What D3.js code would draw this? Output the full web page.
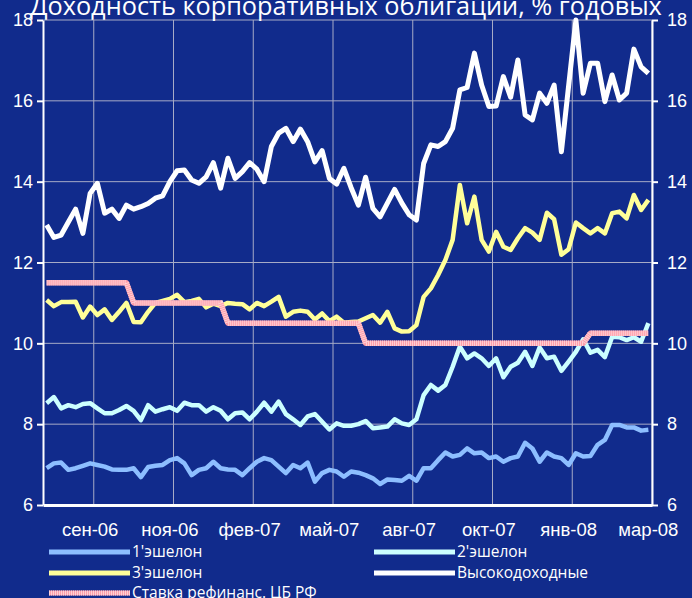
<!DOCTYPE html>
<html>
<head>
<meta charset="utf-8">
<script src="https://cdn.jsdelivr.net/npm/d3@7"></script>
<style>
  body { margin: 0; background: #112b8c; }
  svg { display: block; }
</style>
</head>
<body>
<div id="chart"></div>
<script>
const title = "Доходность корпоративных облигаций, % годовых";
const monthLabels = ["сен-06", "ноя-06", "фев-07", "май-07", "авг-07", "окт-07", "янв-08", "мар-08"];
const yTicks = [6, 8, 10, 12, 14, 16, 18];

// weekly yields, % p.a. (84 observations)
const echelon1 = [6.91, 7.03, 7.05, 6.87, 6.91, 6.97, 7.03, 6.99, 6.95, 6.88,
  6.87, 6.87, 6.91, 6.69, 6.94, 6.97, 6.99, 7.11, 7.16, 7.03,
  6.74, 6.87, 6.91, 7.07, 6.91, 6.88, 6.87, 6.74, 6.91, 7.07,
  7.16, 7.11, 6.95, 6.79, 6.99, 6.91, 7.05, 6.58, 6.79, 6.87,
  6.83, 6.70, 6.83, 6.80, 6.74, 6.66, 6.52, 6.63, 6.62, 6.60,
  6.72, 6.60, 6.91, 6.91, 7.11, 7.30, 7.20, 7.24, 7.40, 7.28,
  7.30, 7.16, 7.20, 7.07, 7.16, 7.20, 7.54, 7.40, 7.07, 7.30,
  7.20, 7.16, 6.99, 7.28, 7.20, 7.21, 7.49, 7.61, 7.98, 7.98,
  7.92, 7.92, 7.84, 7.86];

const echelon2 = [8.52, 8.67, 8.39, 8.47, 8.42, 8.50, 8.52, 8.39, 8.27, 8.27,
  8.35, 8.45, 8.33, 8.10, 8.47, 8.31, 8.37, 8.42, 8.33, 8.53,
  8.47, 8.47, 8.31, 8.42, 8.33, 8.12, 8.27, 8.29, 8.12, 8.31,
  8.53, 8.31, 8.56, 8.25, 8.12, 7.98, 8.19, 8.25, 8.06, 7.87,
  8.02, 7.96, 7.96, 8.00, 8.08, 7.90, 7.92, 7.94, 8.12, 8.02,
  7.98, 8.12, 8.72, 8.97, 8.83, 8.97, 9.42, 9.92, 9.63, 9.75,
  9.63, 9.44, 9.63, 9.16, 9.42, 9.52, 9.79, 9.44, 9.90, 9.63,
  9.67, 9.32, 9.55, 9.79, 10.10, 9.77, 9.84, 9.66, 10.16, 10.15,
  10.08, 10.15, 10.04, 10.50];

const echelon3 = [11.07, 10.92, 11.02, 11.02, 11.03, 10.64, 10.91, 10.70, 10.84, 10.58,
  10.78, 11.00, 10.53, 10.52, 10.78, 11.00, 11.05, 11.10, 11.20, 11.02,
  11.05, 11.10, 10.89, 10.98, 10.92, 11.00, 10.98, 10.97, 10.84, 11.00,
  10.92, 11.03, 11.15, 10.66, 10.78, 10.81, 10.78, 10.59, 10.74, 10.55,
  10.66, 10.51, 10.53, 10.54, 10.62, 10.70, 10.51, 10.78, 10.37, 10.29,
  10.30, 10.45, 11.15, 11.36, 11.69, 12.06, 12.56, 13.92, 12.97, 13.63,
  12.56, 12.27, 12.76, 12.39, 12.31, 12.60, 12.85, 12.74, 12.56, 13.23,
  13.07, 12.19, 12.33, 12.99, 12.85, 12.72, 12.85, 12.72, 13.22, 13.26,
  13.09, 13.67, 13.30, 13.55];

const highYield = [12.93, 12.62, 12.68, 13.00, 13.32, 12.72, 13.71, 13.96, 13.22, 13.32,
  13.09, 13.42, 13.32, 13.38, 13.46, 13.59, 13.65, 14.00, 14.27, 14.29,
  14.04, 13.96, 14.12, 14.47, 13.84, 14.58, 14.08, 14.25, 14.47, 14.31,
  14.00, 14.87, 15.20, 15.32, 14.99, 15.30, 14.99, 14.49, 14.77, 14.08,
  13.94, 14.33, 13.85, 13.42, 14.11, 13.34, 13.13, 13.47, 13.81, 13.47,
  13.18, 13.05, 14.45, 14.91, 14.87, 14.99, 15.32, 16.27, 16.33, 17.18,
  16.39, 15.86, 15.87, 16.60, 16.09, 17.01, 15.65, 15.53, 16.19, 15.94,
  16.39, 14.74, 16.37, 18.00, 16.19, 16.93, 16.93, 15.98, 16.64, 16.02,
  16.19, 17.28, 16.84, 16.68];

const refiRate = [11.5, 11.5, 11.5, 11.5, 11.5, 11.5, 11.5, 11.5, 11.5, 11.5,
  11.5, 11.5, 11, 11, 11, 11, 11, 11, 11, 11,
  11, 11, 11, 11, 11, 10.5, 10.5, 10.5, 10.5, 10.5,
  10.5, 10.5, 10.5, 10.5, 10.5, 10.5, 10.5, 10.5, 10.5, 10.5,
  10.5, 10.5, 10.5, 10.5, 10, 10, 10, 10, 10, 10,
  10, 10, 10, 10, 10, 10, 10, 10, 10, 10,
  10, 10, 10, 10, 10, 10, 10, 10, 10, 10,
  10, 10, 10, 10, 10, 10.25, 10.25, 10.25, 10.25, 10.25,
  10.25, 10.25, 10.25, 10.25];

const width = 692, height = 598;
const bg = "#112b8c";

const series = [
  {name: "1'эшелон", values: echelon1, color: "#8dbeff"},
  {name: "2'эшелон", values: echelon2, color: "#ccffff"},
  {name: "3'эшелон", values: echelon3, color: "#ffff99"},
  {name: "Высокодоходные", values: highYield, color: "#ffffff"},
  {name: "Ставка рефинанс. ЦБ РФ", values: refiRate, color: "#ff9eaa", striped: true}
];

const n = highYield.length;

const svg = d3.select("#chart").append("svg")
  .attr("width", width)
  .attr("height", height)
  .style("font-family", "'Open Sans', sans-serif");

svg.append("rect").attr("width", width).attr("height", height).attr("fill", bg);

const x = d3.scaleBand().domain(d3.range(n)).range([43, 652]).padding(0);
const y = d3.scaleLinear().domain([6, 18]).range([505, 20]);
const cx = i => x(i) + x.bandwidth() / 2;

// every 11th week gets a label, counting back from the last one
const tickIdx = monthLabels.map((m, k) => n - 1 - 11 * (monthLabels.length - 1 - k));

// grid
svg.append("g")
  .selectAll("line")
  .data(yTicks.slice(1))
  .join("line")
    .attr("x1", 43).attr("x2", 652)
    .attr("y1", d => y(d)).attr("y2", d => y(d))
    .attr("stroke", "#a7abc6")
    .attr("stroke-width", 1);

svg.append("g")
  .selectAll("line")
  .data(tickIdx)
  .join("line")
    .attr("x1", d => x(d) + x.bandwidth()).attr("x2", d => x(d) + x.bandwidth())
    .attr("y1", y(18)).attr("y2", y(6))
    .attr("stroke", "#a7abc6")
    .attr("stroke-width", 1);

// axes
function styleAxis(g) {
  g.selectAll("path, line").attr("stroke", "#fff").attr("stroke-width", 2);
  g.selectAll("text").attr("fill", "#fff").style("font-size", "18px");
}

svg.append("g")
  .attr("transform", "translate(43,0)")
  .call(d3.axisLeft(y).tickValues(yTicks).tickSize(6).tickSizeOuter(0).tickPadding(4))
  .call(styleAxis);

svg.append("g")
  .attr("transform", "translate(652,0)")
  .call(d3.axisRight(y).tickValues(yTicks).tickSize(6).tickSizeOuter(0).tickPadding(9))
  .call(styleAxis);

const xAxis = svg.append("g")
  .attr("transform", "translate(0,505)")
  .call(d3.axisBottom(x).tickValues(tickIdx)
    .tickFormat(d => monthLabels[tickIdx.indexOf(d)])
    .tickSize(0).tickPadding(18));
xAxis.call(styleAxis);
xAxis.select(".domain").attr("stroke-width", 3);
xAxis.selectAll("text").style("font-size", "18.5px");

// lines
const line = d3.line()
  .x((d, i) => cx(i))
  .y(d => y(d));

const lines = svg.append("g").attr("fill", "none");
series.forEach(s => {
  lines.append("path")
    .datum(s.values)
    .attr("d", line)
    .attr("stroke", s.color)
    .attr("stroke-width", s.striped ? 5.5 : s.name === "Высокодоходные" ? 5 : 4.5)
    .attr("stroke-linejoin", "round");
  if (s.striped) {
    lines.append("path")
      .datum(s.values)
      .attr("d", line)
      .attr("stroke", "#ffd0d5")
      .attr("stroke-width", 5.5)
      .attr("stroke-dasharray", "1,1");
  }
});

// legend
const legendPos = [[49, 552], [374, 552], [49, 573], [374, 573], [49, 593]];
const legend = svg.append("g");
series.forEach((s, k) => {
  let [lx, ly] = legendPos[k];
  legend.append("line")
    .attr("x1", lx).attr("x2", lx + 81)
    .attr("y1", ly).attr("y2", ly)
    .attr("stroke", s.color)
    .attr("stroke-width", 5);
  if (s.striped) {
    legend.append("line")
      .attr("x1", lx).attr("x2", lx + 81)
      .attr("y1", ly).attr("y2", ly)
      .attr("stroke", "#ffd0d5")
      .attr("stroke-width", 5)
      .attr("stroke-dasharray", "1,1");
  }
  legend.append("text")
    .attr("x", lx + 83)
    .attr("y", ly)
    .attr("dy", "0.35em")
    .attr("fill", "#fff")
    .style("font-size", "15.5px")
    .text(s.name);
});

// title, cut by the top edge as in the source
svg.append("text")
  .attr("x", width / 2)
  .attr("y", 15)
  .attr("text-anchor", "middle")
  .attr("fill", "#fff")
  .style("font-size", "25.3px")
  .text(title);
</script>
</body>
</html>
